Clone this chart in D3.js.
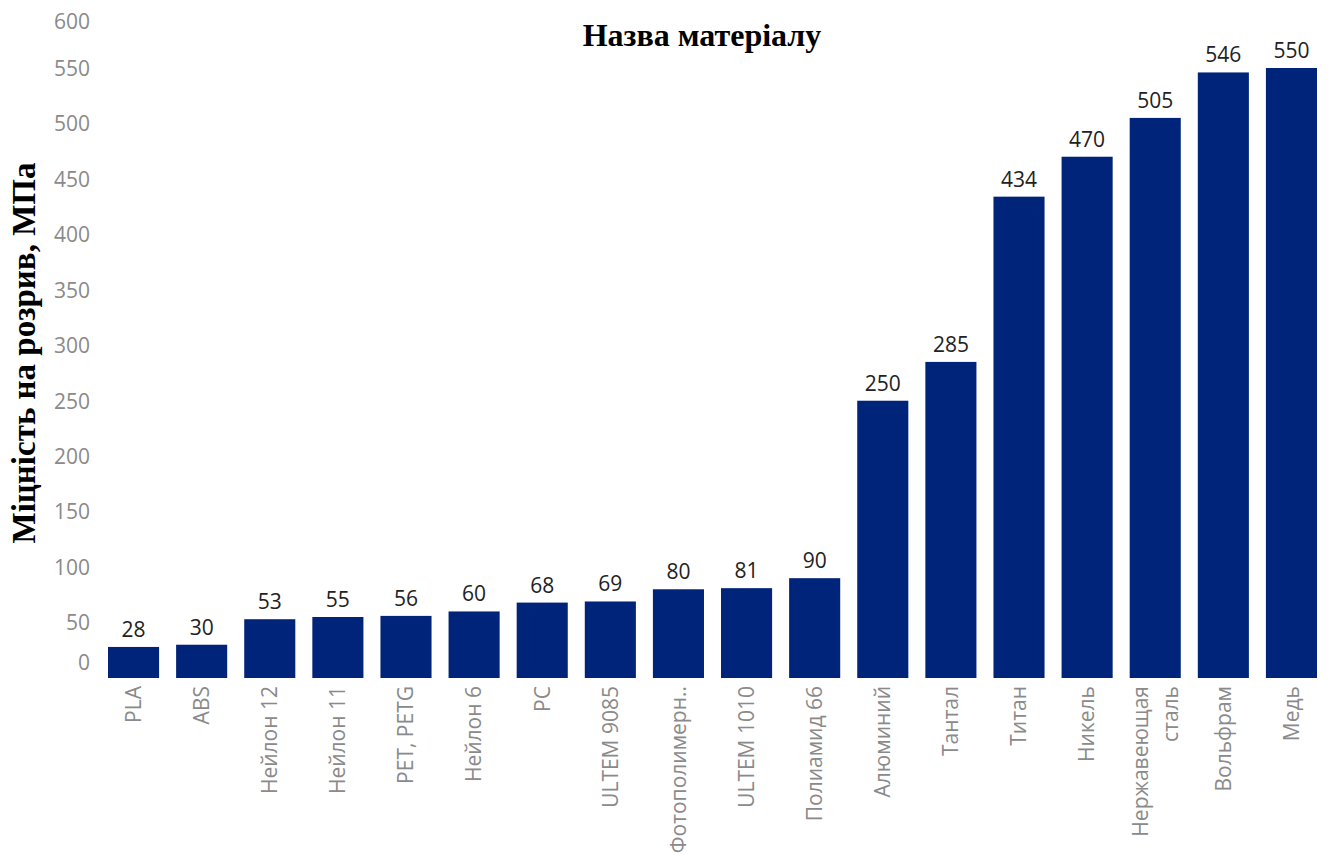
<!DOCTYPE html>
<html><head><meta charset="utf-8">
<script src="https://cdn.jsdelivr.net/npm/d3@7"></script>
<style>
body{margin:0;background:#fff;}
svg{display:block;}
</style></head>
<body>
<svg id="chart" width="1328" height="854"></svg>
<script>
const categories = ["PLA","ABS","Нейлон 12","Нейлон 11","PET, PETG","Нейлон 6","PC","ULTEM 9085","Фотополимерн..","ULTEM 1010","Полиамид 66","Алюминий","Тантал","Титан","Никель","Нержавеющая\nсталь","Вольфрам","Медь"];
const values = [28,30,53,55,56,60,68,69,80,81,90,250,285,434,470,505,546,550];
const yTicks = [0,50,100,150,200,250,300,350,400,450,500,550,600];
const title = "Назва матеріалу";
const yTitle = "Міцність на розрив, МПа";

const svg = d3.select("#chart");
const x = d3.scaleBand().domain(categories).range([108, 1317]).paddingInner(0.25).paddingOuter(0);
const y = d3.scaleLinear().domain([0, 550]).range([678, 68]);
const font = "'Open Sans', sans-serif";
const fs = 21;

// y axis (labels only)
const yAx = svg.append("g").attr("transform","translate(92,0)")
  .call(d3.axisLeft(y).tickValues(yTicks).tickSize(0).tickPadding(2));
yAx.select(".domain").remove();
yAx.selectAll("text")
  .attr("fill","#8a8a8a").style("font-family",font).style("font-size",fs+"px")
  .attr("dy", d => d === 0 ? "-0.4em" : (d === 600 ? "0.75em" : "0.35em"));

// bars
svg.append("g").selectAll("rect").data(values).join("rect")
  .attr("x",(d,i)=>x(categories[i]))
  .attr("y",d=>y(d))
  .attr("width",x.bandwidth())
  .attr("height",d=>y(0)-y(d))
  .attr("fill","#00247a");

// value labels
svg.append("g").selectAll("text").data(values).join("text")
  .attr("x",(d,i)=>x(categories[i])+x.bandwidth()/2)
  .attr("y",d=>y(d)-10)
  .attr("text-anchor","middle")
  .attr("fill","#222")
  .style("font-family",font).style("font-size",fs+"px")
  .text(d=>d);

// x axis labels
const xAx = svg.append("g").attr("transform","translate(0,678)")
  .call(d3.axisBottom(x).tickSize(0).tickFormat(""));
xAx.select(".domain").remove();
xAx.selectAll(".tick").each(function(d){
  const lines = d.split("\n");
  const t = d3.select(this).append("text")
    .attr("transform","rotate(-90)")
    .attr("x",-8).attr("y",0)
    .attr("text-anchor","end")
    .attr("fill","#8a8a8a")
    .style("font-family",font).style("font-size",fs+"px");
  const lh = 30;
  lines.forEach((ln,k)=>{
    t.append("tspan").attr("x",-8)
      .attr("dy", k===0 ? (0.35*fs - (lines.length-1)*lh/2)+"px" : lh+"px")
      .text(ln);
  });
});

// title
svg.append("text").attr("x",702).attr("y",46).attr("text-anchor","middle")
  .style("font-family","'Liberation Serif', 'Times New Roman', serif").style("font-weight","bold").style("font-size","32px")
  .attr("fill","#000").text(title);

// y title
svg.append("text").attr("transform","translate(35,353) rotate(-90)").attr("text-anchor","middle")
  .style("font-family","'Liberation Serif', 'Times New Roman', serif").style("font-weight","bold").style("font-size","33px")
  .attr("fill","#000").text(yTitle);
</script>
</body></html>
